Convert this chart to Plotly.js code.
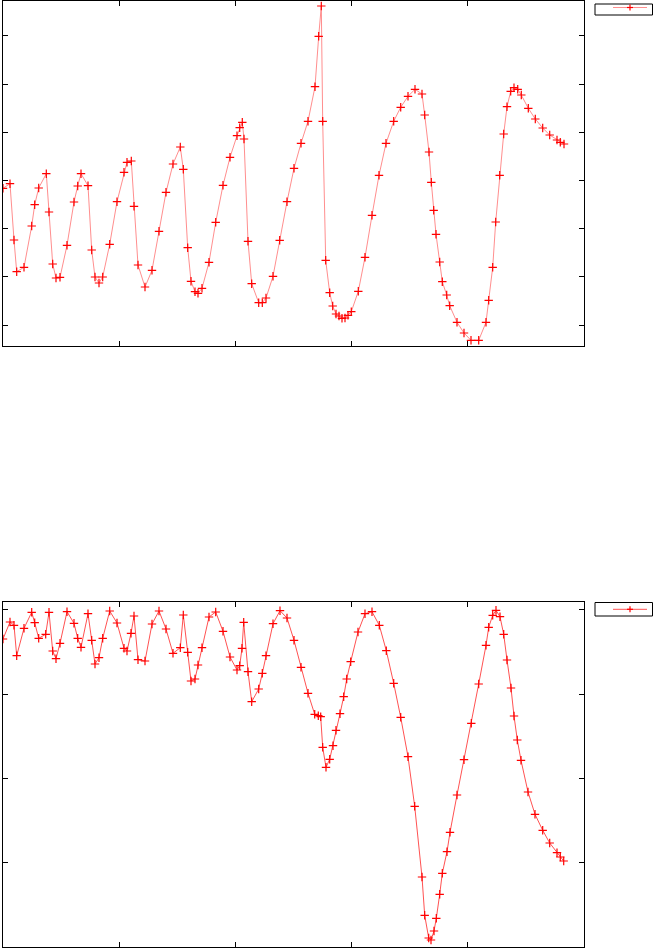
<!DOCTYPE html>
<html>
<head>
<meta charset="utf-8">
<script src="https://cdn.plot.ly/plotly-3.0.1.min.js"></script>
<style>html,body{margin:0;padding:0;background:#fff}#chart{width:654px;height:948px}</style>
</head>
<body>
<div id="chart"></div>
<script>
// Upper panel
var xTop = [0,7,11,13.7,21,28.7,31.7,35.7,43.3,46,49.7,53,57,64,71,74.7,78,85,88.7,92,96,99.7,106.7,114,121,124,128.3,131,135,142,149,156,163,170,177.3,180.3,184.7,188,192,195,199,206,212.7,220,227,234,236.7,239.3,241,245,248.7,255.7,259.3,263,270,276.7,284,291,298,305,312,315.7,318.3,319.7,322.7,326.7,329.7,333,336,339,342,345,348.3,355.3,362,369,376,383,390.7,397.7,405,412,419,421.7,426,428.3,430.7,433,436.7,439.3,443.7,446.7,454,461,468,475.7,483,485.7,489.7,492.7,496.7,500.7,504,507.7,511,514.7,518.3,525.3,532.3,539.7,546.7,554,557.3,561];
var yTop = [136.7,141.3,85,53.3,57.7,99,120.3,137,151.3,113,61,47,47.7,79.7,123,139,151.3,139.3,75,48,42,48,80.7,123.3,152.7,162.7,164,118.7,60,38,54.7,93.7,132.7,161,178,155.7,77.3,43.7,33.3,31.7,36.7,62.7,102.7,139.7,167.7,189.3,197.3,202.7,186,83.7,41.3,22.3,22.3,27,48.7,84.7,123.3,156.7,181.7,203.7,238.3,288.7,319,203.7,64.7,32.3,19,11,9,6.7,7,9.7,13.3,33.7,67.7,109.7,149.7,181.7,203.7,217.7,228.7,235.7,231,210,173,142.7,114.7,90.7,63,43.3,30,19.3,2.7,-8,-15.3,-15.3,2.7,24.7,57.7,103,149.7,191,218.3,233.7,237.3,235.7,230,216.7,206,197,190,185,182.7,181];
// Lower panel
var xBottom = [0,7,11,13.7,21,28.7,31.7,35.7,42.7,46,49.7,53,57,64,71,74.7,78,85,88.7,92,96,99.7,106.7,114,121,124,128,131,135,142,149,156,163,170,177.3,180.3,184.7,188,192,195,199,206,212.7,220,227,234,236.7,239,240.7,245,248.7,255.7,259.3,263,270,277,284,291,298,305,311.7,315.3,317.7,319.7,323,326.7,330,333,337,340.7,343.7,347.7,355,362,369,376.3,383.3,390.7,397.7,405,411.7,419,421.7,425.7,428,431,433.3,436.7,439.3,444,447,454,461,468.3,475.7,483,485.7,489.7,493,497,500.7,504,508,511,514.3,518,525,532,539.7,546.7,554,557.3,560.7];
var yBottom = [308,325,321.7,291.3,318.7,334.7,324.3,308.7,312.7,334.7,296,288.3,303.7,335.3,323.7,308.7,299.7,333.3,306.7,283,289.3,308.7,336,324,298.7,296,313.7,331,287.3,286,323,336,318,293.7,299.3,332,294.7,266,268,282,299.3,330,335,315.7,290,277,281.3,298.7,324.7,275.3,245.3,258,273.7,291.3,323.3,336.3,329,306.7,279.7,253.7,232.7,231.3,230.3,199.7,179.7,187.7,201.3,216.7,233.3,250.3,268,285.3,315,333.3,335.3,321.7,296.3,263.7,229.7,190.3,140.7,70,31.7,9,7,16,28.7,52.7,73.7,95.3,114.7,152,187.3,223.7,263,301.7,319.7,331.7,336.7,330.3,312.7,287,259,231,207,186.7,155,132.7,116.7,104,94.3,90,86];

var topLineColor = '#ff8e8e';
var bottomLineColor = '#ff5252';
var markerColor = '#ff0000';
var markerStyle = {symbol:'cross-thin-open', size:6, color:markerColor, line:{color:markerColor, width:1.2}};

var traces = [
  {x:xTop, y:yTop, xaxis:'x', yaxis:'y', type:'scatter', mode:'lines+markers', name:'',
   line:{color:topLineColor, width:1}, marker:markerStyle},
  {x:xBottom, y:yBottom, xaxis:'x2', yaxis:'y2', type:'scatter', mode:'lines+markers', name:'',
   line:{color:bottomLineColor, width:1}, marker:markerStyle}
];

function ax(extra){
  var base = {showline:true, linecolor:'#000', linewidth:1, mirror:'allticks', ticks:'inside', ticklen:5,
    tickcolor:'#000', tickwidth:1, showticklabels:false, showgrid:false, zeroline:false};
  for (var k in extra) base[k] = extra[k];
  return base;
}

// Key boxes (gnuplot-style key without a title), placed in paper space
var W = 654, H = 948, ML = 3, MR = 70, MT = 1, MB = 1;
function px(x){ return (x - ML) / (W - ML - MR); }
function py(y){ return (H - MB - y) / (H - MT - MB); }
function keyShapes(top, bottom, lineY, lineColor){
  return [
    {type:'rect', xref:'paper', yref:'paper', x0:px(595), x1:px(652.5), y0:py(bottom), y1:py(top),
     line:{color:'#000', width:1}, fillcolor:'rgba(0,0,0,0)'},
    {type:'line', xref:'paper', yref:'paper', x0:px(613), x1:px(647), y0:py(lineY), y1:py(lineY),
     line:{color:lineColor, width:1}},
    {type:'line', xref:'paper', yref:'paper', x0:px(627), x1:px(633), y0:py(lineY), y1:py(lineY),
     line:{color:markerColor, width:1.2}},
    {type:'line', xref:'paper', yref:'paper', x0:px(630), x1:px(630), y0:py(lineY-3), y1:py(lineY+3),
     line:{color:markerColor, width:1.2}}
  ];
}

var layout = {
  width:W, height:H,
  margin:{l:ML, r:MR, t:MT, b:MB, pad:0, autoexpand:false},
  paper_bgcolor:'#fff', plot_bgcolor:'#fff',
  showlegend:false,
  xaxis: ax({domain:[0,1], range:[0,581], tick0:0, dtick:116.2, anchor:'y'}),
  yaxis: ax({domain:[0.6353,1], range:[-21,324], tick0:0, dtick:48.17, anchor:'x'}),
  xaxis2: ax({domain:[0,1], range:[0,581], tick0:0, dtick:116.2, anchor:'y2'}),
  yaxis2: ax({domain:[0,0.3647], range:[0,345], tick0:0, dtick:84.3, anchor:'x2'}),
  shapes: keyShapes(4, 15, 7.5, topLineColor).concat(keyShapes(602.5, 616, 609.3, bottomLineColor))
};

Plotly.newPlot('chart', traces, layout, {displayModeBar:false, staticPlot:true});
</script>
</body>
</html>
